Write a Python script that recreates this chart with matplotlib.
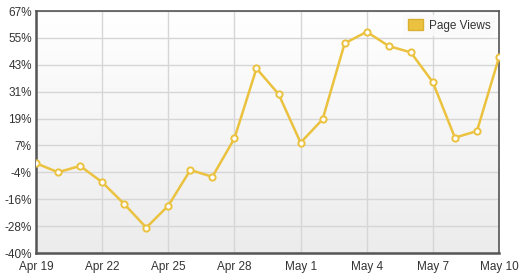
import numpy as np
import pandas as pd
import matplotlib
matplotlib.use("Agg")
import matplotlib.pyplot as plt
from matplotlib.patches import Patch

plt.rcParams["font.family"] = ["Liberation Sans", "DejaVu Sans"]

# daily page view change, Apr 19 .. May 10
days = pd.date_range("2012-04-19", "2012-05-10", freq="D")
page_views = [-0.3, -4.3, -1.5, -8.7, -18.3, -28.8, -19.1, -3.3, -6.3, 10.7,
              41.6, 30.3, 8.8, 19.1, 52.7, 57.8, 51.5, 48.7, 35.5, 11.0,
              13.9, 46.5]

y_ticks = np.linspace(-40, 67, 10)
y_labels = ["-40%", "-28%", "-16%", "-4%", "7%", "19%", "31%", "43%", "55%", "67%"]
x_tick_days = days[::3]
x_labels = ["Apr 19", "Apr 22", "Apr 25", "Apr 28", "May 1", "May 4", "May 7", "May 10"]

GOLD = "#ebc23f"

fig = plt.figure(figsize=(5.2, 2.78), dpi=100)
ax = fig.add_axes([36 / 520, 25 / 278, 463 / 520, 242 / 278])

# soft white-to-grey background
grad = np.linspace(1.0, 0.0, 256).reshape(-1, 1)
ax.imshow(grad, extent=[0, 1, 0, 1], transform=ax.transAxes, aspect="auto",
          cmap=matplotlib.colors.LinearSegmentedColormap.from_list("bg", ["#ececec", "#ffffff"]),
          zorder=0)

ax.plot(days, page_views, color=GOLD, lw=1.8, zorder=3,
        marker="o", ms=4.5, mfc="white", mec=GOLD, mew=1.4)

ax.set_xlim(days[0], days[-1])
ax.set_ylim(-40, 67)
ax.set_yticks(y_ticks)
ax.set_yticklabels(y_labels)
ax.set_xticks(x_tick_days)
ax.set_xticklabels(x_labels)

ax.grid(True, color="#d6d6d6", lw=1, zorder=1)
ax.set_axisbelow(True)
ax.tick_params(length=0, labelsize=8.5, labelcolor="#333333", pad=3)
ax.tick_params(axis="x", pad=6)
for s in ax.spines.values():
    s.set_color("#555555")
    s.set_linewidth(1.2)
ax.spines["left"].set_linewidth(1.8)
ax.spines["bottom"].set_linewidth(1.8)

leg = ax.legend(handles=[Patch(facecolor=GOLD, edgecolor="#d9b030", label="Page Views")],
                loc="upper right", fontsize=8.5, frameon=True, handlelength=1.3,
                handleheight=1.0, handletextpad=0.5, borderaxespad=0.3)
leg.get_frame().set_facecolor("#fafafa")
leg.get_frame().set_edgecolor("none")
leg.get_frame().set_alpha(0.9)
for t in leg.get_texts():
    t.set_color("#333333")

fig.savefig("out.png", dpi=100)
